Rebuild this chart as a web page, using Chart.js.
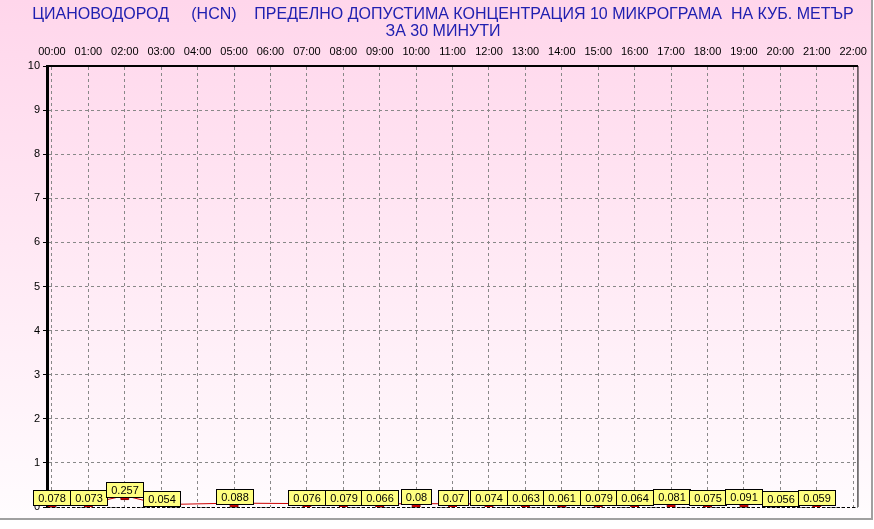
<!DOCTYPE html>
<html><head><meta charset="utf-8">
<script src="https://cdn.jsdelivr.net/npm/chart.js@4/dist/chart.umd.min.js"></script>
<style>html,body{margin:0;padding:0;background:#fff}#wrap{width:874px;height:529px;position:relative}</style>
</head><body><div id="wrap"><canvas id="c"></canvas></div>
<script>
const hours = ['00:00','01:00','02:00','03:00','04:00','05:00','06:00','07:00','08:00','09:00','10:00','11:00','12:00','13:00','14:00','15:00','16:00','17:00','18:00','19:00','20:00','21:00','22:00'];
const hcnValues = [0.078,0.073,0.257,0.054,null,0.088,null,0.076,0.079,0.066,0.08,0.07,0.074,0.063,0.061,0.079,0.064,0.081,0.075,0.091,0.056,0.059];
const yTickValues = [0,1,2,3,4,5,6,7,8,9,10];
const titleLines = ['ЦИАНОВОДОРОД     (HCN)    ПРЕДЕЛНО ДОПУСТИМА КОНЦЕНТРАЦИЯ 10 МИКРОГРАМА  НА КУБ. МЕТЪР', 'ЗА 30 МИНУТИ'];

const FONT = "'Liberation Sans', Arial, sans-serif";

const bgPlugin = {
  id: 'bg',
  beforeDraw(chart) {
    const ctx = chart.ctx;
    ctx.save();
    ctx.fillStyle = '#ffffff';
    ctx.fillRect(0, 0, chart.width, chart.height);
    const g = ctx.createLinearGradient(0, 0, 0, 519);
    g.addColorStop(0, '#ffd6eb');
    g.addColorStop(1, '#fffcfe');
    ctx.fillStyle = g;
    ctx.fillRect(0, 0, 872, 519);
    ctx.strokeStyle = '#a0a0a0';
    ctx.lineWidth = 2;
    ctx.beginPath();
    ctx.moveTo(872, 0); ctx.lineTo(872, 519); ctx.lineTo(0, 519);
    ctx.stroke();
    ctx.restore();
  },
  afterDraw(chart) {
    const ctx = chart.ctx, a = chart.chartArea;
    ctx.save();
    ctx.strokeStyle = '#000';
    ctx.lineWidth = 1;
    ctx.setLineDash([3, 2]);
    ctx.beginPath();
    ctx.moveTo(a.left, a.bottom + 0.5); ctx.lineTo(a.right, a.bottom + 0.5);
    ctx.stroke();
    ctx.setLineDash([]);
    ctx.beginPath();
    ctx.moveTo(a.right + 0.5, a.top); ctx.lineTo(a.right + 0.5, a.bottom);
    ctx.stroke();
    ctx.restore();
  }
};

const labelPlugin = {
  id: 'valueLabels',
  afterDatasetsDraw(chart) {
    const ctx = chart.ctx;
    const meta = chart.getDatasetMeta(0);
    ctx.save();
    ctx.font = '11px ' + FONT;
    ctx.textAlign = 'center';
    ctx.textBaseline = 'middle';
    hcnValues.forEach((v, i) => {
      if (v === null) return;
      const el = meta.data[i];
      const txt = String(v);
      const w = Math.round(ctx.measureText(txt).width) + 9;
      const h = 15;
      const x = Math.round(el.x - w / 2) + 0.5;
      const y = Math.round(el.y) - 14 + 0.5;
      ctx.fillStyle = '#ffff80';
      ctx.fillRect(x, y, w, h);
      ctx.strokeStyle = '#000';
      ctx.lineWidth = 1;
      ctx.strokeRect(x, y, w, h);
      ctx.fillStyle = '#000';
      ctx.fillText(txt, x + w / 2, y + h / 2 + 0.5);
    });
    ctx.restore();
  }
};

new Chart(document.getElementById('c'), {
  type: 'line',
  data: {
    datasets: [{
      data: hcnValues.map((v, i) => ({ x: i, y: v })),
      borderColor: '#cc0000',
      borderWidth: 1,
      pointStyle: 'rect',
      pointRadius: 5.5,
      pointBackgroundColor: '#cc0000',
      pointBorderColor: '#800000',
      pointBorderWidth: 1,
      spanGaps: true,
      tension: 0
    }]
  },
  options: {
    responsive: true,
    maintainAspectRatio: false,
    animation: false,
    layout: { padding: { left: 21, right: 9, top: 0, bottom: 22 } },
    plugins: {
      legend: { display: false },
      tooltip: { enabled: false },
      title: {
        display: true,
        text: titleLines,
        color: '#2020b0',
        font: { family: FONT, size: 16, weight: 'normal', lineHeight: 1.0625 },
        padding: { top: 6, bottom: 0 }
      }
    },
    scales: {
      x: {
        type: 'linear',
        position: 'top',
        min: -0.136,
        max: 22.117,
        afterBuildTicks: (axis) => { axis.ticks = hours.map((_, i) => ({ value: i })); },
        afterFit: (s) => { s.height = 26; },
        ticks: {
          callback: (val) => hours[val] !== undefined ? hours[val] : '',
          color: '#000',
          font: { family: FONT, size: 11 },
          padding: 7,
          maxRotation: 0,
          autoSkip: false
        },
        grid: { color: '#888', lineWidth: 1, drawTicks: false },
        border: { display: true, color: '#000', width: 2, dash: [3, 3] }
      },
      y: {
        type: 'linear',
        min: 0,
        max: 10,
        afterBuildTicks: (axis) => { axis.ticks = yTickValues.map(v => ({ value: v })); },
        afterFit: (s) => { s.width = 26; },
        ticks: {
          color: '#000',
          font: { family: FONT, size: 11 },
          padding: 3
        },
        grid: { color: '#888', lineWidth: 1, drawTicks: true, tickLength: 4, tickColor: '#000' },
        border: { display: true, color: '#000', width: 3, dash: [3, 3] }
      }
    }
  },
  plugins: [bgPlugin, labelPlugin]
});
</script>
</body></html>
